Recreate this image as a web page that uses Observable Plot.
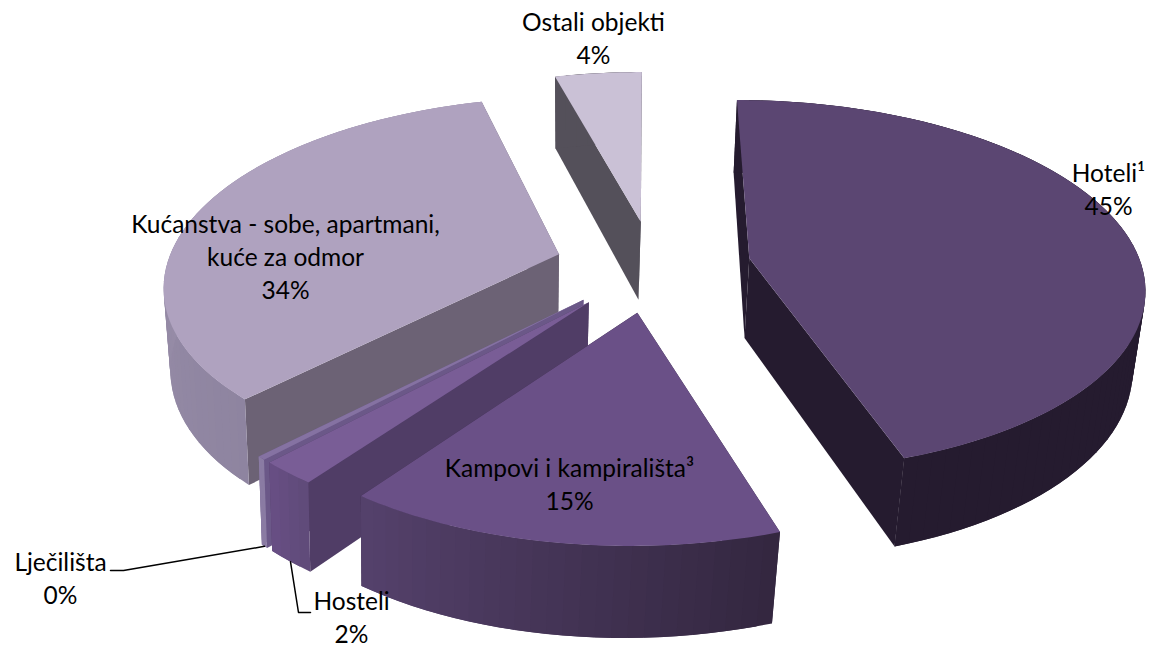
<!DOCTYPE html>
<html>
<head>
<meta charset="utf-8">
<script src="https://cdn.jsdelivr.net/npm/d3@7"></script>
<script src="https://cdn.jsdelivr.net/npm/@observablehq/plot@0.6"></script>
<style>html,body{margin:0;padding:0;background:#fff}svg{display:block}</style>
</head>
<body>
<div id="chart"></div>
<script>
// Data
const categories = ["Hoteli¹", "Kampovi i kampirališta³", "Hosteli", "Lječilišta", "Kućanstva - sobe, apartmani,\nkuće za odmor", "Ostali objekti"];
const shares = [44.9, 15, 2, 0.3, 33.6, 4.2];

// Styling / layout (separate from the data)
const topColors = ["#5b4672", "#6a5087", "#795d96", "#8572a2", "#afa2bf", "#cac1d6"];
const radialColors = ["#251b2f", "#33263f", "#503d66", "#6b5888", "#6c6275", "#54505a"];
const arcStartColors = ["#251b2f", "#33263f", "#5f4a78", "#8a7ba3", "#8e84a0", "#54505a"];
const arcEndColors = ["#251b2f", "#55426c", "#684f85", "#8a7ba3", "#a499b2", "#54505a"];
const labelX = [1108, 569, 351, 60, 285, 593];
const labelY = [187, 482, 615, 576, 255, 36];
const leaderY = [570, 612];
const paintOrder = [5, 4, 3, 2, 1, 0];

// Perspective model of the tilted pie
const explode = 0.25, pieX = 0.031, pieY = -0.133;
function project(X, Y, bottom) {
  const s = 1 / (1 - 0.15 * Y);
  let x = 642 + 400 * X * s, y = -983 + 1273 * s;
  if (bottom) { x -= 0.02 * (x - 590); y += 68.5 + 0.0432 * y; }
  x -= 4.4e-5 * (y - 72) * (y - 72);
  return [x, y];
}

const rad = d => d * Math.PI / 180;
const total = d3.sum(shares);
let acc = 0;
const slices = shares.map((v, i) => {
  const a0 = acc / total * 360; acc += v;
  const a1 = acc / total * 360, m = (a0 + a1) / 2;
  return {i, a0, a1, m,
    cx: pieX + explode * Math.sin(rad(m)),
    cy: pieY - explode * Math.cos(rad(m))};
});
const rim = (s, a, bottom) => project(s.cx + Math.sin(rad(a)), s.cy - Math.cos(rad(a)), bottom);
const hub = (s, bottom) => project(s.cx, s.cy, bottom);

// Faces, in paint order
const verts = [];
let fid = 0;
function face(points, c) {
  const id = fid++;
  for (const [x, y] of points) verts.push({id, x, y, c});
}
for (const i of paintOrder) {
  const s = slices[i];
  face([hub(s), rim(s, s.a1), rim(s, s.a1, true), hub(s, true)], radialColors[i]);
  face([hub(s), rim(s, s.a0), rim(s, s.a0, true), hub(s, true)], radialColors[i]);
  const n = Math.max(2, Math.ceil((s.a1 - s.a0) / 2));
  const ramp = d3.interpolateRgb(arcStartColors[i], arcEndColors[i]);
  for (let k = 0; k < n; k++) {
    const u = s.a0 + (s.a1 - s.a0) * k / n;
    const w = s.a0 + (s.a1 - s.a0) * Math.min(k + 2, n) / n; // overlap the next step to hide seams
    face([rim(s, u), rim(s, w), rim(s, w, true), rim(s, u, true)], d3.color(ramp((k + 0.5) / n)).formatHex());
  }
  const arc = [];
  for (let k = 0; k <= n * 2; k++) arc.push(rim(s, s.a0 + (s.a1 - s.a0) * k / (n * 2)));
  face([hub(s), ...arc], topColors[i]);
}

// Labels
const labels = categories.map((c, i) => ({
  text: c + "\n" + d3.format(".0f")(shares[i]) + "%",
  x: labelX[i], y: labelY[i]
}));

// Leader lines: slice rim to the label
const leaderRows = [];
const hosteli = slices[2], ljec = slices[3];
const hp = rim(hosteli, hosteli.m, true), lp = rim(ljec, ljec.m, true);
[[lp, [123, leaderY[0]], [110, leaderY[0]]],
 [hp, [298, leaderY[1]], [310, leaderY[1]]]].forEach((pts, id) =>
  pts.forEach(([x, y]) => leaderRows.push({id, x, y})));

const plot = Plot.plot({
  width: 1152, height: 649,
  margin: 0,
  x: {domain: [0, 1152], range: [0, 1152], axis: null},
  y: {domain: [0, 649], range: [0, 649], axis: null},
  style: {background: "#fff"},
  marks: [
    Plot.line(verts, {x: "x", y: "y", z: "id", fill: d => d.c, stroke: "none", curve: "linear-closed"}),
    Plot.line(leaderRows, {x: "x", y: "y", z: "id", stroke: "#000", strokeWidth: 1.5}),
    Plot.text(labels, {x: "x", y: "y", text: "text", fontFamily: "Lato, Carlito, sans-serif", fontSize: 24.5, lineHeight: 1.35, fill: "#000", textAnchor: "middle"})
  ]
});
document.getElementById("chart").appendChild(plot);
</script>
</body>
</html>
